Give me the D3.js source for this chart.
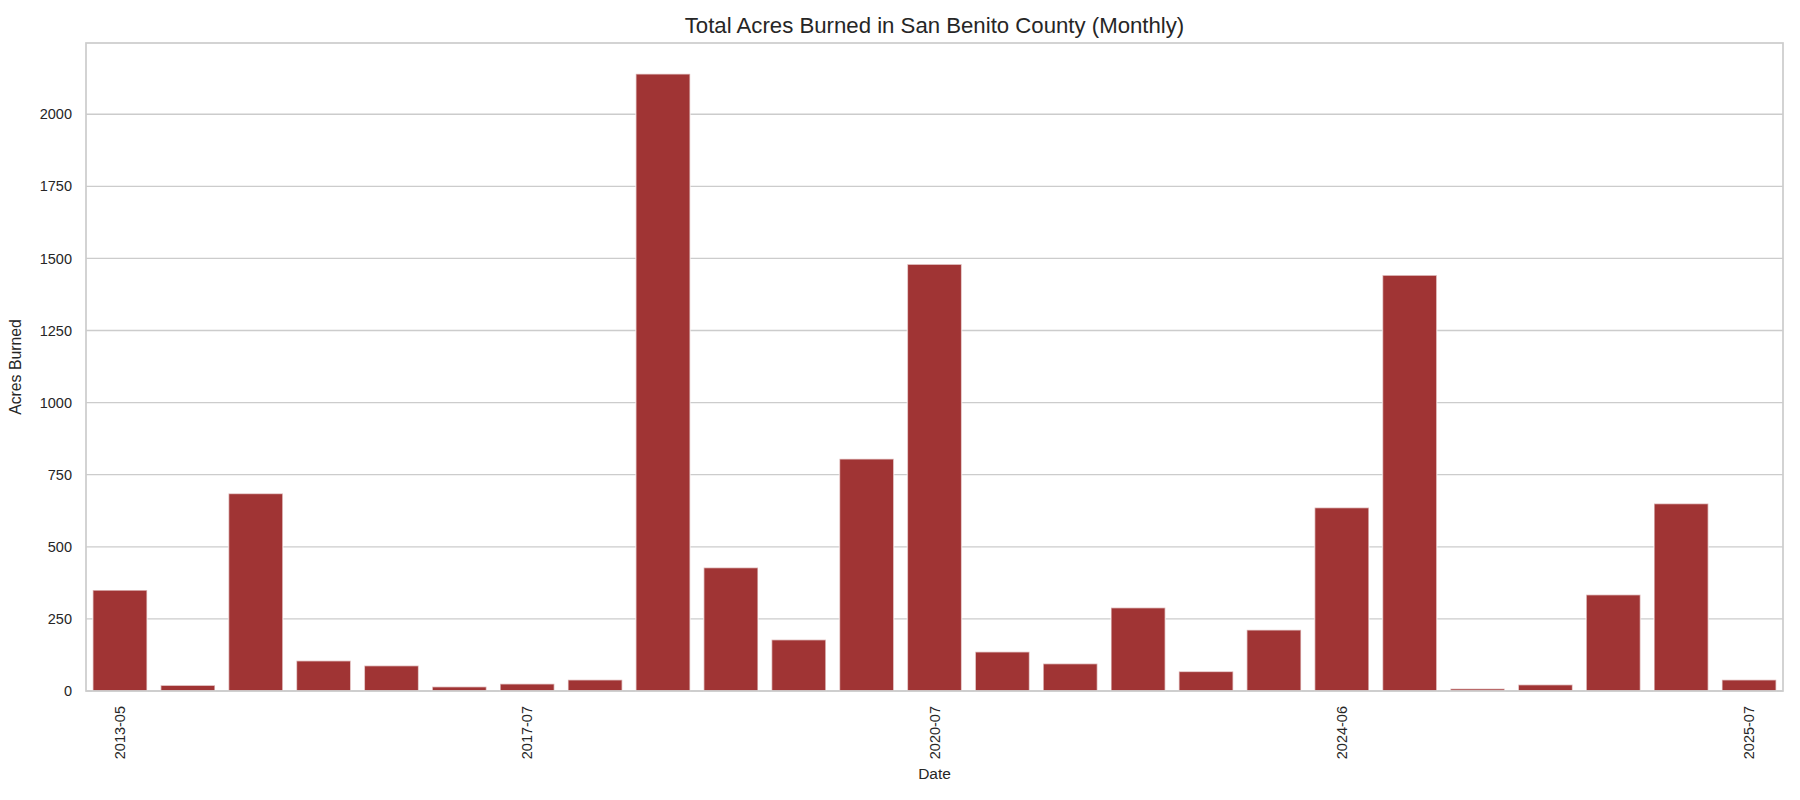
<!DOCTYPE html>
<html>
<head>
<meta charset="utf-8">
<script src="https://cdn.jsdelivr.net/npm/d3@7"></script>
<style>
  body { margin: 0; background: #fff; }
  svg { font-family: "Liberation Sans", Arial, sans-serif; }
</style>
</head>
<body>
<svg id="canvas"></svg>
<script>
// monthly totals, one bar per month with fire activity
let months = [
  '2013-05', '2014-06', '2015-07', '2015-08', '2016-06', '2016-07',
  '2017-07', '2017-08', '2018-07', '2019-06', '2019-07', '2020-06',
  '2020-07', '2020-08', '2021-07', '2022-06', '2022-09', '2023-07',
  '2024-06', '2024-07', '2024-08', '2024-10', '2025-05', '2025-06',
  '2025-07'
];
let acres = [
  350, 20, 685, 105, 88, 15,
  25, 39, 2140, 428, 178, 805,
  1480, 136, 95, 289, 68, 212,
  636, 1442, 8, 22, 334, 650,
  39
];
let shownTicks = ['2013-05', '2017-07', '2020-07', '2024-06', '2025-07'];
let yTicks = [0, 250, 500, 750, 1000, 1250, 1500, 1750, 2000];

let w = 1800;
let h = 800;
let plotLeft = 86, plotRight = 1783, plotTop = 43, plotBottom = 691;

let values = months.map((m, i) => ({month: m, acres: acres[i]}));

let canvas = d3.select('#canvas')
  .attr('width', w)
  .attr('height', h);

let xScale = d3.scaleBand()
  .domain(months)
  .range([plotLeft, plotRight])
  .paddingInner(0.2)
  .paddingOuter(0.1);

let yScale = d3.scaleLinear()
  .domain([0, d3.max(acres) * 1.05])
  .range([plotBottom, plotTop]);

// horizontal grid
canvas.append('g')
  .selectAll('line')
  .data(yTicks)
  .enter()
  .append('line')
  .attr('x1', plotLeft)
  .attr('x2', plotRight)
  .attr('y1', d => yScale(d))
  .attr('y2', d => yScale(d))
  .attr('stroke', '#cccccc')
  .attr('stroke-width', 1.3);

// bars
canvas.append('g')
  .selectAll('rect')
  .data(values)
  .enter()
  .append('rect')
  .attr('x', d => xScale(d.month))
  .attr('width', xScale.bandwidth())
  .attr('y', d => yScale(d.acres))
  .attr('height', d => plotBottom - yScale(d.acres))
  .attr('fill', '#a03434')
  .attr('stroke', '#ffffff')
  .attr('stroke-opacity', 0.6)
  .attr('stroke-width', 1.5);

// frame
canvas.append('rect')
  .attr('x', plotLeft)
  .attr('y', plotTop)
  .attr('width', plotRight - plotLeft)
  .attr('height', plotBottom - plotTop)
  .attr('fill', 'none')
  .attr('stroke', '#cccccc')
  .attr('stroke-width', 1.7);

// y axis labels
let yAxis = d3.axisLeft(yScale)
  .tickValues(yTicks)
  .tickSize(0)
  .tickPadding(14)
  .tickFormat(d3.format('d'));

canvas.append('g')
  .attr('id', 'y-axis')
  .attr('transform', 'translate(' + plotLeft + ', 0)')
  .call(yAxis)
  .call(g => g.select('.domain').remove())
  .selectAll('text')
  .attr('font-size', 14.5)
  .attr('font-family', null)
  .attr('fill', '#262626');

// x axis labels, only a few shown
let xAxis = d3.axisBottom(xScale)
  .tickValues(shownTicks)
  .tickSize(0)
  .tickPadding(0);

canvas.append('g')
  .attr('id', 'x-axis')
  .attr('transform', 'translate(0, ' + plotBottom + ')')
  .call(xAxis)
  .call(g => g.select('.domain').remove())
  .selectAll('text')
  .attr('font-size', 14.5)
  .attr('font-family', null)
  .attr('fill', '#262626')
  .attr('text-anchor', 'end')
  .attr('dy', null)
  .attr('y', 0)
  .attr('dominant-baseline', 'central')
  .attr('transform', 'translate(0, 15) rotate(-90)');

// titles
canvas.append('text')
  .attr('x', (plotLeft + plotRight) / 2)
  .attr('y', 33)
  .attr('text-anchor', 'middle')
  .attr('font-size', 22.2)
  .attr('fill', '#262626')
  .text('Total Acres Burned in San Benito County (Monthly)');

canvas.append('text')
  .attr('x', (plotLeft + plotRight) / 2)
  .attr('y', 779)
  .attr('text-anchor', 'middle')
  .attr('font-size', 15.5)
  .attr('fill', '#262626')
  .text('Date');

canvas.append('text')
  .attr('transform', 'translate(21, ' + (plotTop + plotBottom) / 2 + ') rotate(-90)')
  .attr('text-anchor', 'middle')
  .attr('font-size', 15.8)
  .attr('fill', '#262626')
  .text('Acres Burned');
</script>
</body>
</html>
